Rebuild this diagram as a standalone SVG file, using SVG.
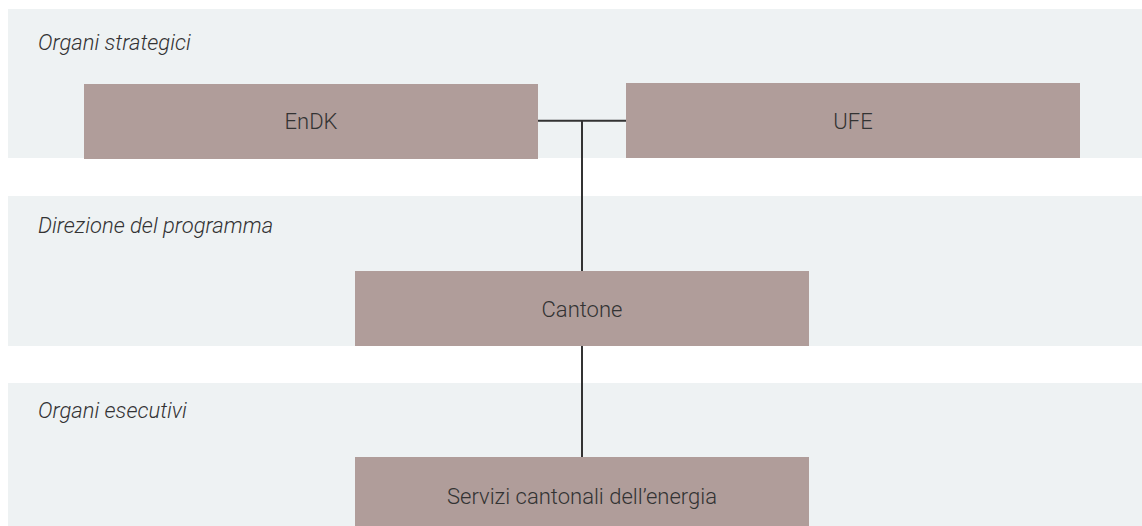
<svg xmlns="http://www.w3.org/2000/svg" width="1142" height="526" viewBox="0 0 1142 526">
<style>
.band{fill:#eef2f3}
.box{fill:#b09d9a}
.lbl{font-family:Roboto,"Liberation Sans",sans-serif;font-style:italic;font-weight:300;font-size:22px;fill:#333}
.txt{font-family:Roboto,"Liberation Sans",sans-serif;font-weight:300;font-size:22px;fill:#333;text-anchor:middle}
.conn{stroke:#333;stroke-width:2;fill:none}
</style>
<rect width="1142" height="526" fill="#fff"/>
<g id="bands">
<rect class="band" x="8" y="9" width="1134" height="149"/>
<rect class="band" x="8" y="196" width="1134" height="150"/>
<rect class="band" x="8" y="383" width="1134" height="143"/>
<text class="lbl" x="38" y="50">Organi strategici</text>
<text class="lbl" x="38" y="233">Direzione del programma</text>
<text class="lbl" x="38" y="418">Organi esecutivi</text>
</g>
<g id="connectors">
<path class="conn" d="M538 120.7H626M582 120.7V271M582 346V457"/>
</g>
<g id="endk"><rect class="box" x="84" y="84" width="454" height="75"/><text class="txt" x="311" y="129">EnDK</text></g>
<g id="ufe"><rect class="box" x="626" y="83" width="454" height="75"/><text class="txt" x="853" y="129">UFE</text></g>
<g id="cantone"><rect class="box" x="355" y="271" width="454" height="75"/><text class="txt" x="582" y="316.5">Cantone</text></g>
<g id="servizi"><rect class="box" x="355" y="457" width="454" height="69"/><text class="txt" x="582" y="504">Servizi cantonali dell’energia</text></g>
</svg>
